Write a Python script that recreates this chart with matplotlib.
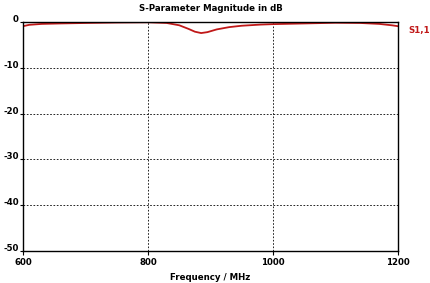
import numpy as np
import matplotlib
matplotlib.use("Agg")
import matplotlib.pyplot as plt

# S11 magnitude
freq = [600, 610, 630, 660, 700, 750, 800, 830, 850, 865, 875, 885, 895, 910, 930, 950, 980, 1000,
        1050, 1100, 1140, 1170, 1190, 1200]
s11 = [-0.9, -0.6, -0.4, -0.3, -0.2, -0.1, -0.05, -0.2, -0.7, -1.5, -2.1, -2.4, -2.2, -1.6, -1.1, -0.8,
       -0.55, -0.45, -0.3, -0.15, -0.2, -0.4, -0.7, -0.9]
xticks = [600, 800, 1000, 1200]
yticks = [0, -10, -20, -30, -40, -50]

fig = plt.figure(figsize=(4.30, 2.83), dpi=100)
ax = fig.add_axes([0.0535, 0.113, 0.8721, 0.809])

ax.plot(freq, s11, color="#c01818", lw=1.3)
ax.set_xlim(600, 1200)
ax.set_ylim(-50, 0)
ax.set_xticks(xticks)
ax.set_yticks(yticks)
ax.grid(True, color="black", linestyle=(0, (2, 2)), linewidth=0.6)

fnt = dict(fontsize=6.2, fontweight="bold", family="DejaVu Sans")
ax.set_xticklabels([str(t) for t in xticks], **fnt)
ax.set_yticklabels([str(t) for t in yticks], va="baseline", **fnt)
ax.tick_params(axis="y", length=2, width=0.8, pad=1)
ax.tick_params(axis="x", length=3, width=0.8, pad=2)
for s in ax.spines.values():
    s.set_linewidth(1.0)

ax.set_title("S-Parameter Magnitude in dB", pad=8, **fnt)
ax.set_xlabel("Frequency / MHz", labelpad=4, **fnt)
ax.text(1.028, 0.985, "S1,1", transform=ax.transAxes, color="#c01818", va="top", ha="left", **fnt)

fig.savefig("out.png", dpi=100)
